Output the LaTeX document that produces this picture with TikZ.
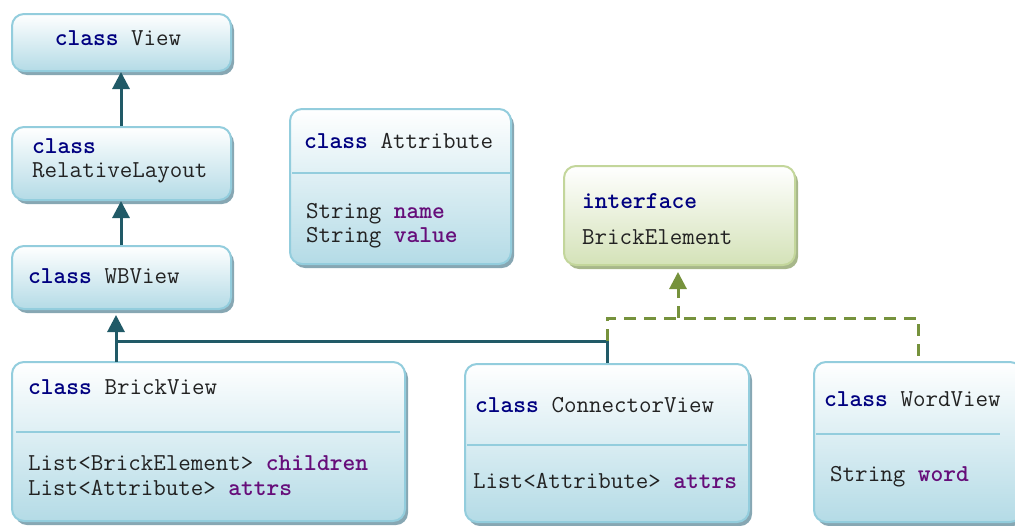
\documentclass[tikz,border=0pt]{standalone}
\usetikzlibrary{shadows,arrows.meta,calc}
\definecolor{kwblue}{HTML}{000080}
\definecolor{fieldpurple}{HTML}{660E7A}
\definecolor{plaintext}{HTML}{222222}
\definecolor{boxline}{HTML}{93CDDD}
\definecolor{boxfill}{HTML}{B4DBE6}
\definecolor{boxshadow}{HTML}{87A7B3}
\definecolor{ifline}{HTML}{C3D69B}
\definecolor{iffill}{HTML}{D4E2B8}
\definecolor{ifshadow}{HTML}{A7B78A}
\definecolor{inhcolor}{HTML}{215A67}
\definecolor{implcolor}{HTML}{76923C}
\newcommand{\kw}[1]{\textcolor{kwblue}{\bfseries #1}}
\newcommand{\fld}[1]{\textcolor{fieldpurple}{\bfseries #1}}
\begin{document}
\begin{tikzpicture}[x=1pt,y=-1pt,
  classbox/.style={draw=boxline, line width=2pt, rounded corners=12pt,
    top color=white, bottom color=boxfill, inner sep=0pt,
    drop shadow={shadow xshift=3pt, shadow yshift=-4pt, fill=boxshadow, opacity=1}},
  ifacebox/.style={draw=ifline, line width=2pt, rounded corners=12pt,
    top color=white, bottom color=iffill, inner sep=0pt,
    drop shadow={shadow xshift=3pt, shadow yshift=-4pt, fill=ifshadow, opacity=1}},
  code/.style={font=\ttfamily\fontsize{24.3}{28}\selectfont, text=plaintext, inner sep=0pt, anchor=base west},
  divider/.style={draw=boxline, line width=2pt},
  inherit/.style={draw=inhcolor, line width=3pt},
  inheritarrow/.style={inherit, -{Triangle[width=17pt,length=17pt]}},
  implements/.style={draw=implcolor, line width=3pt, dash pattern=on 12pt off 8pt},
  implarrow/.style={implements, -{Triangle[width=17pt,length=17pt]}}]
\useasboundingbox (0,0) rectangle (1015,525);

% class boxes
\node[classbox, minimum width=219pt, minimum height=57pt] (view) at (121.5,42.5) {};
\node[classbox, minimum width=219pt, minimum height=73pt] (rl) at (121.5,163.5) {};
\node[classbox, minimum width=219pt, minimum height=63pt] (wb) at (121.5,277.5) {};
\node[classbox, minimum width=221pt, minimum height=155pt] (att) at (400.5,186.5) {};
\node[ifacebox, minimum width=231pt, minimum height=99pt] (ie) at (679.5,215.5) {};
\node[classbox, minimum width=393pt, minimum height=159pt] (bv) at (208.5,441.5) {};
\node[classbox, minimum width=284pt, minimum height=158pt] (cv) at (607,443) {};
\node[classbox, minimum width=208pt, minimum height=160pt] (wv) at (918,442) {};

% compartment dividers
\draw[divider] (292,173) -- (510,173);
\draw[divider] (16,432) -- (400,432);
\draw[divider] (467,445) -- (747,445);
\draw[divider] (816,434) -- (1000,434);

% labels
\node[code, anchor=base] (viewname) at (118,45) {\kw{class} View};
\node[code] (rlkw) at (32,153) {\kw{class}};
\node[code] (rlname) at (32,177) {RelativeLayout};
\node[code] (wbname) at (28,283) {\kw{class} WBView};
\node[code] (attname) at (304,148) {\kw{class} Attribute};
\node[code] (attf1) at (306,218) {String \fld{name}};
\node[code] (attf2) at (306,242) {String \fld{value}};
\node[code] (iekw) at (582,208) {\kw{interface}};
\node[code] (iename) at (582,244) {BrickElement};
\node[code] (bvname) at (28,394) {\kw{class} BrickView};
\node[code] (bvf1) at (28,470) {List<BrickElement> \fld{children}};
\node[code] (bvf2) at (28,495) {List<Attribute> \fld{attrs}};
\node[code] (cvname) at (475,412) {\kw{class} ConnectorView};
\node[code] (cvf1) at (473,488) {List<Attribute> \fld{attrs}};
\node[code] (wvname) at (824,406) {\kw{class} WordView};
\node[code] (wvf1) at (830,481) {String \fld{word}};

% inheritance
\draw[inheritarrow] (rl.north -| 121,0) -- (view.south -| 121,0);
\draw[inheritarrow] (wb.north -| 121,0) -- (rl.south -| 121,0);
\coordinate (bvtop) at (116,362);
\coordinate (join) at (116,341);
\draw[inheritarrow, shorten >=5pt] (bvtop) -- (bvtop |- wb.south);
\draw[inherit] (cv.north) |- (join);

% interface realisation
\coordinate (gstart) at (607,341);
\coordinate (gbar) at (678,318);
\draw[implements] (gstart) |- (gbar) -| (wv.north);
\draw[implarrow, shorten >=6pt] (gbar) -- (gbar |- ie.south);
\end{tikzpicture}
\end{document}
